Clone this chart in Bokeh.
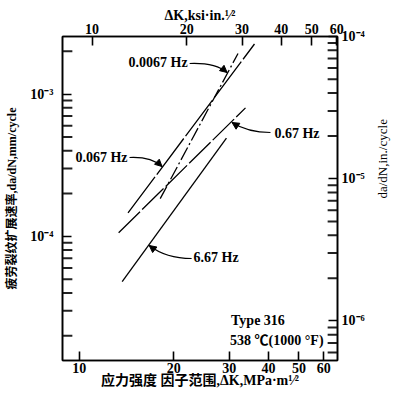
import math
from bokeh.plotting import figure
from bokeh.models import Range1d, LogAxis, LogScale, FixedTicker, Label, Arrow, NormalHead
from bokeh.embed import file_html
from bokeh.resources import INLINE

# ---------------- data ----------------
series_names = ["0.0067 Hz", "0.067 Hz", "0.67 Hz", "6.67 Hz"]
dk_0067 = [18.1, 32.0]            # stress-intensity range, MPa*m^1/2
rate_0067 = [1.84e-4, 1.93e-3]    # da/dN, mm/cycle
dk_067 = [14.3, 36.1]
rate_067 = [1.46e-4, 2.25e-3]
dk_67 = [13.35, 33.8]
rate_67 = [1.06e-4, 8.0e-4]
dk_667 = [13.7, 29.4]
rate_667 = [4.8e-5, 4.9e-4]

mpa_ticks = [10, 20, 30, 40, 50, 60]
mpa_tick_labels = ["10", "20", "30", "40", "50", "60"]
ksi_ticks = [10, 20, 30, 40, 50, 60]
ksi_tick_labels = ["10", "20", "30", "40", "50", "60"]
mm_ticks = [1e-4, 1e-3]
mm_tick_labels = ["10\u207b\u2074", "10\u207b\u00b3"]
in_ticks = [1e-6, 1e-5, 1e-4]
in_tick_labels = ["10\u207b\u2076", "10\u207b\u2075", "10\u207b\u2074"]

MPA_PER_KSI = 1.0988
MM_PER_IN = 25.4

X0, X1 = 8.85, 66.3
Y0, Y1 = 1.34e-5, 2.54e-3

# ---------------- layout ----------------
W, H = 400, 397
FL, FR, FT, FB = 62, 341, 36, 360   # frame edges in canvas px


def px(xp):
    """canvas x pixel -> data K"""
    return X0 * (X1 / X0) ** ((xp - FL) / (FR - FL))


def py(yp):
    """canvas y pixel -> data da/dN"""
    return Y0 * (Y1 / Y0) ** ((FB - yp) / (FB - FT))


SERIF = "Liberation Serif, Noto Sans CJK SC"

p = figure(width=W, height=H, x_axis_type="log", y_axis_type="log",
           x_range=Range1d(X0, X1), y_range=Range1d(Y0, Y1),
           output_backend="svg", toolbar_location=None,
           min_border_left=FL, min_border_right=W - FR,
           min_border_top=FT, min_border_bottom=H - FB)
p.grid.visible = False
p.outline_line_color = "black"
p.outline_line_width = 1.5
p.background_fill_color = "white"
p.border_fill_color = "white"

p.extra_x_ranges = {"ksi": Range1d(X0 / MPA_PER_KSI, X1 / MPA_PER_KSI)}
p.extra_x_scales = {"ksi": LogScale()}
p.extra_y_ranges = {"in": Range1d(Y0 / MM_PER_IN, Y1 / MM_PER_IN)}
p.extra_y_scales = {"in": LogScale()}


def minors(exps):
    return [m * 10.0 ** e for e in exps for m in range(2, 10)]


def style(ax, ticks, labels, standoff, title, title_size, title_standoff, title_style="bold"):
    ax.ticker = FixedTicker(ticks=list(ticks))
    ax.major_label_overrides = dict(zip(ticks, labels))
    ax.major_tick_in = 9
    ax.major_tick_out = 0
    ax.minor_tick_in = 0
    ax.minor_tick_out = 0
    ax.axis_line_width = 1.6
    ax.axis_line_color = "black"
    ax.major_tick_line_width = 1.6
    ax.major_tick_line_color = "black"
    ax.major_label_text_font = "Liberation Serif"
    ax.major_label_text_font_size = "14px"
    ax.major_label_text_font_style = "bold"
    ax.major_label_text_color = "black"
    ax.major_label_standoff = standoff
    ax.axis_label = title
    ax.axis_label_text_font = SERIF
    ax.axis_label_text_font_size = title_size
    ax.axis_label_text_font_style = title_style
    ax.axis_label_text_color = "black"
    ax.axis_label_standoff = title_standoff


style(p.xaxis[0], mpa_ticks, mpa_tick_labels, 2,
      "应力强度 因子范围,\u0394K,MPa\u00b7m\u00b9\u2044\u00b2", "14px", -3)
style(p.yaxis[0], mm_ticks, mm_tick_labels, 9,
      "疲劳裂纹扩展速率,da/dN,mm/cycle", "12px", 8)

top = LogAxis(x_range_name="ksi")
style(top, ksi_ticks, ksi_tick_labels, 3,
      "\u0394K,ksi\u00b7in.\u00b9\u2044\u00b2", "14px", -2)
p.add_layout(top, "above")

right = LogAxis(y_range_name="in")
style(right, in_ticks, in_tick_labels, 4,
      "da/dN,in./cycle", "13px", 15, "normal")
try:
    right.axis_label_orientation = math.pi / 2
except Exception:
    pass
p.add_layout(right, "right")

# minor ticks (inward), drawn from the tick values
mm_minor = [v for v in minors([-5, -4, -3]) if Y0 <= v <= Y1]
in_minor = [v for v in minors([-7, -6, -5]) if Y0 <= v * MM_PER_IN <= Y1]
p.segment(x0=[px(FL - 2)] * len(mm_minor), x1=[px(FL + 10)] * len(mm_minor),
          y0=mm_minor, y1=mm_minor, line_color="#222222", line_width=2)
p.segment(x0=[px(FR - 10)] * len(in_minor), x1=[px(FR + 2)] * len(in_minor),
          y0=[v * MM_PER_IN for v in in_minor], y1=[v * MM_PER_IN for v in in_minor],
          line_color="#222222", line_width=2)

# ---------------- data lines ----------------
p.line(dk_0067, rate_0067, line_color="black", line_width=1.3, line_dash="14 3 2 3")
p.line(dk_067, rate_067, line_color="black", line_width=1.3, line_dash="45 3")
p.line(dk_67, rate_67, line_color="black", line_width=1.3, line_dash="30 3")
p.line(dk_667, rate_667, line_color="black", line_width=1.3)

# ---------------- leader arrows ----------------
arrows = [  # start, control, end (canvas px)
    ((191, 63), (217, 62), (229, 72)),
    ((130, 157), (152, 156), (163, 166)),
    ((273, 132), (250, 132), (234, 122)),
    ((193, 258), (167, 258), (150, 245)),
]
for (s, c, e) in arrows:
    p.quadratic(x0=[px(s[0])], y0=[py(s[1])], x1=[px(e[0])], y1=[py(e[1])],
                cx=[px(c[0])], cy=[py(c[1])], line_color="black", line_width=1.2)
    p.add_layout(Arrow(end=NormalHead(size=7, fill_color="black", line_color="black"),
                       x_start=px(c[0]), y_start=py(c[1]), x_end=px(e[0]), y_end=py(e[1]),
                       line_alpha=0))


def text(xp, yp, t, align="left", size="14px", style_="bold"):
    p.add_layout(Label(x=px(xp), y=py(yp), text=t, text_font=SERIF,
                       text_font_size=size, text_font_style=style_,
                       text_align=align, text_baseline="middle",
                       text_color="black"))


text(189, 62, series_names[0], align="right")
text(128, 157, series_names[1], align="right")
text(277, 133, series_names[2])
text(195, 257, series_names[3])
text(233, 320, "Type 316")
text(232, 340, "538 \u2103(1000 \u00b0F)")

open("out.html", "w").write(file_html(p, INLINE))
